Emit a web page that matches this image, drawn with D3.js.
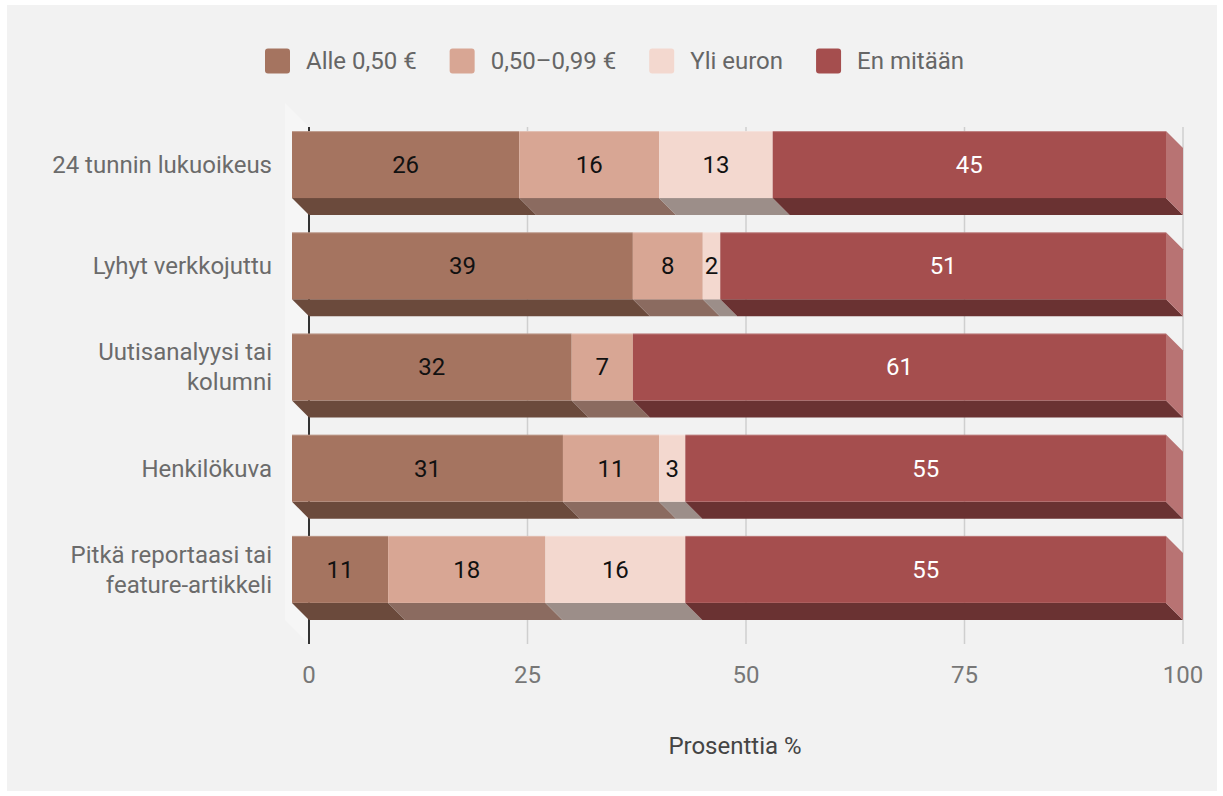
<!DOCTYPE html>
<html>
<head>
<meta charset="utf-8">
<script src="https://cdn.jsdelivr.net/npm/d3@7"></script>
<style>
  html, body { margin: 0; padding: 0; background: #ffffff; }
  svg { display: block; font-family: Roboto, "Noto Sans", sans-serif; }
</style>
</head>
<body>
<svg id="chart" width="1223" height="796"></svg>
<script>
// Data: share of respondents (%) willing to pay for each content type
const categories = [
  ["24 tunnin lukuoikeus"],
  ["Lyhyt verkkojuttu"],
  ["Uutisanalyysi tai", "kolumni"],
  ["Henkilökuva"],
  ["Pitkä reportaasi tai", "feature-artikkeli"]
];
const seriesNames = ["Alle 0,50 €", "0,50–0,99 €", "Yli euron", "En mitään"];
const alle050   = [26, 39, 32, 31, 11];
const v050_099  = [16, 8, 7, 11, 18];
const yliEuron  = [13, 2, 0, 3, 16];
const enMitaan  = [45, 51, 61, 55, 55];
const xTicks    = [0, 25, 50, 75, 100];
const axisTitle = "Prosenttia %";

const seriesValues = [alle050, v050_099, yliEuron, enMitaan];
const frontColors  = ["#a57460", "#d8a694", "#f3d8cf", "#a54e4e"];
const bottomColors = ["#6b4a3c", "#8b6b60", "#9c8e89", "#6a3232"];
const sideColors   = ["#86604f", "#b88c7b", "#d3bab2", "#b87373"];
const labelColors  = ["#111111", "#111111", "#111111", "#ffffff"];

const fontSize = 24;
const svg = d3.select("#chart");
const depth = 17;

// background panel
svg.append("rect").attr("x", 7).attr("y", 5).attr("width", 1210).attr("height", 786)
  .attr("fill", "#f2f2f2");

// scales: back plane (grid) and front plane (bar faces)
const xBack = d3.scaleLinear().domain([0, 100]).range([309, 1183]);
const xFront = v => xBack(v) - depth;
const rowKeys = categories.map((c, i) => i);
const y = d3.scaleBand().domain(rowKeys).range([114, 620])
  .paddingInner(0.338).paddingOuter(0.169);

const plotTop = 127, plotBottom = 644;

// left wall
svg.append("polygon")
  .attr("points", [[285, 103], [309, 127], [309, plotBottom], [285, plotBottom - 24]].join(" "))
  .attr("fill", "#f6f6f6");

// grid lines on the back plane
svg.append("g").selectAll("line")
  .data(xTicks.filter(t => t !== 0))
  .join("line")
  .attr("x1", d => xBack(d)).attr("x2", d => xBack(d))
  .attr("y1", plotTop).attr("y2", plotBottom)
  .attr("stroke", "#cfcfcf").attr("stroke-width", 1.5);

// value axis baseline
svg.append("line")
  .attr("x1", xBack(0)).attr("x2", xBack(0))
  .attr("y1", plotTop).attr("y2", plotBottom)
  .attr("stroke", "#333").attr("stroke-width", 2);

// stacked segments
const rows = rowKeys.map(i => {
  let acc = 0;
  return seriesValues.map((vals, s) => {
    const v = vals[i];
    const seg = { row: i, s, v, x0: acc, x1: acc + v };
    acc += v;
    return seg;
  });
});

const barsG = svg.append("g");
rows.forEach(segs => {
  const g = barsG.append("g");
  const yt = y(segs[0].row), yb = yt + y.bandwidth();
  const visible = segs.filter(d => d.v > 0);
  // bottom faces
  g.selectAll("polygon.bottom").data(visible).join("polygon")
    .attr("class", "bottom")
    .attr("points", d => [
      [xFront(d.x0), yb], [xFront(d.x1), yb],
      [xFront(d.x1) + depth, yb + depth], [xFront(d.x0) + depth, yb + depth]
    ].join(" "))
    .attr("fill", d => bottomColors[d.s]);
  // side face of the last segment
  const last = visible[visible.length - 1];
  g.append("polygon")
    .attr("points", [
      [xFront(last.x1), yt], [xFront(last.x1) + depth, yt + depth],
      [xFront(last.x1) + depth, yb + depth], [xFront(last.x1), yb]
    ].join(" "))
    .attr("fill", sideColors[last.s]);
  // front faces
  g.selectAll("rect.front").data(visible).join("rect")
    .attr("class", "front")
    .attr("x", d => xFront(d.x0))
    .attr("y", yt)
    .attr("width", d => xFront(d.x1) - xFront(d.x0))
    .attr("height", y.bandwidth())
    .attr("fill", d => frontColors[d.s]);
  // thin top highlight
  g.append("line")
    .attr("x1", xFront(0)).attr("x2", xFront(last.x1))
    .attr("y1", yt + 0.5).attr("y2", yt + 0.5)
    .attr("stroke", "#ffffff").attr("stroke-opacity", 0.25);
  // value labels
  g.selectAll("text").data(visible).join("text")
    .attr("x", d => (xFront(d.x0) + xFront(d.x1)) / 2)
    .attr("y", yt + y.bandwidth() / 2)
    .attr("dy", "0.35em")
    .attr("text-anchor", "middle")
    .attr("font-size", fontSize)
    .attr("fill", d => labelColors[d.s])
    .text(d => d.v);
});

// category labels
const catG = svg.append("g");
categories.forEach((lines, i) => {
  const cy = y(i) + y.bandwidth() / 2;
  const lh = 30;
  const t = catG.append("text")
    .attr("text-anchor", "end")
    .attr("font-size", fontSize)
    .attr("fill", "#6b6b6b");
  lines.forEach((ln, k) => {
    t.append("tspan")
      .attr("x", 272)
      .attr("y", cy + (k - (lines.length - 1) / 2) * lh)
      .attr("dy", "0.35em")
      .text(ln);
  });
});

// x axis tick labels
svg.append("g").selectAll("text").data(xTicks).join("text")
  .attr("x", d => xBack(d))
  .attr("y", 675)
  .attr("dy", "0.35em")
  .attr("text-anchor", "middle")
  .attr("font-size", fontSize)
  .attr("fill", "#777")
  .text(d => d);

// axis title
svg.append("text")
  .attr("x", 735).attr("y", 746).attr("dy", "0.35em")
  .attr("text-anchor", "middle")
  .attr("font-size", fontSize)
  .attr("fill", "#444")
  .text(axisTitle);

// legend
const legendG = svg.append("g");
const sw = 25, gapText = 16, gapItem = 33;
let lx = 0;
seriesNames.forEach((name, s) => {
  const g = legendG.append("g");
  g.append("rect").attr("x", 0).attr("y", -sw / 2).attr("width", sw).attr("height", sw)
    .attr("rx", 3).attr("fill", frontColors[s]);
  const t = g.append("text").attr("x", sw + gapText).attr("y", 0).attr("dy", "0.35em")
    .attr("font-size", fontSize).attr("fill", "#666").text(name);
  const w = sw + gapText + t.node().getComputedTextLength();
  g.attr("transform", `translate(${lx},0)`);
  lx += w + gapItem;
});
legendG.attr("transform", `translate(${265},61)`);
</script>
</body>
</html>
